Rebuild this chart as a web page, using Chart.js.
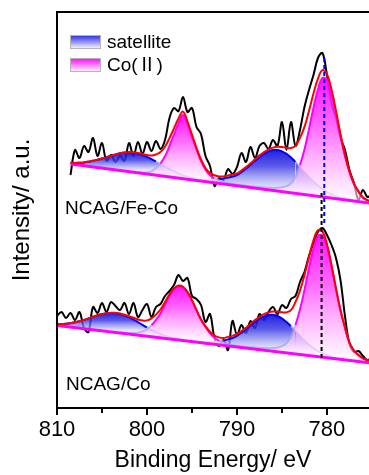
<!DOCTYPE html>
<html>
<head>
<meta charset="utf-8">
<script src="https://cdn.jsdelivr.net/npm/chart.js@4.4.1/dist/chart.umd.min.js"></script>
<style>
  html, body { margin: 0; padding: 0; background: #fff; }
  canvas { display: block; }
</style>
</head>
<body>
<canvas id="chart" width="369" height="475"></canvas>
<script>
// binding energy grid (eV)
const energy = [810, 809.5, 809, 808.5, 808, 807.5, 807, 806.5, 806, 805.5, 805, 804.5, 804, 803.5, 803, 802.5, 802, 801.5, 801, 800.5,
  800, 799.5, 799, 798.5, 798, 797.5, 797, 796.5, 796, 795.5, 795, 794.5, 794, 793.5, 793, 792.5, 792, 791.5, 791, 790.5,
  790, 789.5, 789, 788.5, 788, 787.5, 787, 786.5, 786, 785.5, 785, 784.5, 784, 783.5, 783, 782.5, 782, 781.5, 781, 780.5,
  780, 779.5, 779, 778.5, 778, 777.5, 777, 776.5, 776, 775.5, 775];

// NCAG/Fe-Co (upper trace)
const feCoRawFrom = 808.5;
const feCoRaw = [233, 258, 250, 262, 256, 270, 252, 265, 247, 253, 246, 252, 247, 265, 252, 266, 254, 266,
  257, 267, 259, 268, 290, 300, 297, 311, 296, 300, 281, 274, 252, 242, 222, 230, 228, 239, 234, 241,
  255, 246, 261, 250, 262, 265, 259, 268, 262, 286, 258, 286, 262, 278, 301, 318, 333, 350, 355, 333,
  305, 290, 270, 258, 238, 225, 208, 218, 211, 214];
const feCoFitFrom = 808.5;
const feCoFit = [245.2, 245.1, 245.3, 245.6, 246.3, 247.2, 248.3, 249.5, 250.9, 252.3, 253.6, 254.7, 255.4, 255.9, 255.7, 255.0, 254.0, 252.9,
  252.4, 253.5, 255.9, 261.3, 269.9, 279.6, 289.5, 296.4, 286.4, 273.2, 260.2, 248.5, 240.0, 234.9, 232.7, 231.6, 231.6, 232.6, 233.3, 234.6,
  237.5, 240.9, 244.7, 248.7, 252.6, 255.8, 258.7, 260.4, 261.3, 261.0, 260.2, 260.0, 262.1, 270.1, 281.1, 297.1, 314.5, 329.4, 337.9, 333.8,
  318.7, 297.2, 274.0, 253.1, 236.5, 224.4, 216.7, 210.5, 207.8, 206.4];
const feCoSat1From = 808.5;
const feCoSat1 = [245.2, 245.1, 245.3, 245.6, 246.3, 247.2, 248.3, 249.5, 250.9, 252.3, 253.6, 254.7, 255.4, 255.6, 255.3, 254.4,
  253.0, 251.1, 248.9, 246.5, 243.9, 241.3, 238.9, 236.6, 234.5, 232.7, 231.2, 229.9, 228.8, 227.8, 226.9, 226.1];
const feCoCo1From = 801;
const feCoCo1 = [235.8, 235.6, 235.8, 236.9, 239.9, 244.3, 251.7, 262.1, 273.5, 284.9, 293.0, 283.7, 271.2, 258.6, 247.0,
  238.4, 232.8, 229.7, 227.6, 226.1, 225.0, 224.1, 223.1, 222.3, 221.5];
const feCoSat2From = 795;
const feCoSat2 = [228.5, 228.0, 227.7, 227.5, 227.6, 228.0, 228.6, 229.6, 230.5, 231.4, 233.0, 235.9, 239.3, 243.1, 247.0, 250.8,
  254.0, 256.6, 257.9, 258.0, 256.7, 254.2, 250.5, 246.1, 241.1, 236.1, 231.1, 226.5, 222.4, 219.0, 216.0, 213.7, 211.8, 210.4,
  209.2, 208.2, 207.4, 206.7, 206.0, 205.3, 204.7];
const feCoCo2From = 790.5;
const feCoCo2 = [223.6, 223.1, 222.7, 222.2, 221.7, 221.3, 220.9, 220.5, 220.3, 220.1, 220.3, 220.7, 221.8, 224.7, 230.6, 243.0,
  258.5, 278.9, 300.3, 318.7, 330.0, 328.3, 314.9, 294.7, 272.4, 252.1, 235.9, 224.0, 216.4, 210.3, 207.7, 206.4];
const feCoBgE = [808.5, 775];
const feCoBgI = [244.0, 204.6];
const feCoMarkE = 780.3;
const feCoMarkI = [350, 183];

// NCAG/Co (lower trace)
const coRawFrom = 810;
const coRaw = [92, 96, 90, 95, 88, 96, 80, 76, 101, 95, 105, 96, 106, 102, 98, 105, 94, 105, 91, 98, 104,
  91, 101, 104, 112, 117, 123, 133, 127, 130, 112, 109, 103, 86, 94, 70, 62, 68, 58, 87, 73,
  83, 75, 87, 80, 94, 88, 96, 101, 94, 103, 100, 109, 112, 126, 136, 152, 165, 176, 180, 173,
  163, 150, 128, 92, 64, 56, 57, 52, 48, 50];
const coFitFrom = 810;
const coFit = [83.8, 84.0, 84.2, 84.8, 85.7, 86.8, 88.1, 89.6, 91.2, 92.7, 93.8, 94.7, 95.3, 95.1, 94.5, 93.3, 91.8, 90.2, 88.5, 87.4, 87.6,
  89.7, 93.4, 98.5, 106.1, 113.8, 119.6, 122.5, 121.3, 115.9, 107.8, 98.0, 88.7, 81.8, 76.2, 72.5, 70.6, 70.0, 71.1, 72.1, 74.0,
  76.9, 80.3, 84.1, 87.9, 91.0, 93.9, 95.6, 96.4, 96.4, 95.7, 95.6, 97.8, 106.0, 117.3, 132.8, 151.1, 167.8, 177.7, 176.6, 164.0,
  143.2, 119.8, 98.0, 80.4, 65.3, 57.3, 53.1, 49.5, 47.9, 46.7];
const coSat1From = 810;
const coSat1 = [83.8, 84.0, 84.2, 84.8, 85.7, 86.8, 88.1, 89.6, 91.2, 92.7, 93.8, 94.7, 95.1, 94.8, 94.0, 92.5, 90.6, 88.4, 85.8,
  83.2, 80.6, 78.2, 76.0, 74.0, 72.4, 71.1, 69.8, 68.9, 68.1, 67.2, 66.5];
const coCo1From = 803;
const coCo1 = [75.5, 75.2, 75.1, 75.2, 75.5, 76.5, 78.8, 82.7, 88.1, 94.6, 103.3, 111.8, 118.3, 121.6, 120.7, 115.6, 107.4,
  97.6, 88.1, 80.8, 74.7, 70.2, 67.2, 65.2, 63.8, 62.7, 61.8, 61.1, 60.3];
const coSat2From = 795;
const coSat2 = [66.7, 66.3, 65.9, 65.8, 65.7, 66.0, 66.6, 67.4, 68.6, 70.0, 72.2, 75.2, 78.7, 82.4, 86.1, 89.2, 91.7, 93.0, 93.2,
  92.0, 89.5, 86.0, 81.8, 77.0, 72.3, 67.6, 63.6, 60.1, 57.0, 54.7, 52.9, 51.3, 50.2, 49.2, 48.5, 47.7, 47.1, 46.5, 46.0, 45.4, 44.9];
const coCo2From = 791;
const coCo2 = [62.9, 62.4, 62.0, 61.6, 61.1, 60.8, 60.5, 60.1, 60.0, 59.8, 59.9, 60.6, 61.8, 64.7, 70.6, 83.0, 98.5, 118.1,
  139.9, 159.6, 172.0, 172.7, 161.4, 141.6, 118.8, 97.4, 80.0, 65.1, 57.2, 53.1, 49.5, 47.9, 46.7];
const coBgE = [810, 775];
const coBgI = [82.5, 44.9];
const coMarkE = 780.6;
const coMarkI = [215, 48];

const xMajor = [810, 800, 790, 780];
const xMinor = [805, 795, 785];
const xTitle = 'Binding Energy/ eV';
const yTitle = 'Intensity/ a.u.';
const legendNames = ['satellite', 'Co(Ⅱ)'];
const sampleNames = ['NCAG/Fe-Co', 'NCAG/Co'];

Chart.defaults.font.family = "'Liberation Sans', Arial, sans-serif";
Chart.defaults.color = '#000';

const FAINT = 'rgba(165,165,230,0.75)';
const BLUE = ['rgba(15,15,220,0.93)', 'rgba(55,55,228,0.82)', 'rgba(235,235,255,0.6)'];
const PINK = ['rgba(255,0,255,0.93)', 'rgba(255,70,255,0.82)', 'rgba(255,240,255,0.6)'];

const idx = e => energy.indexOf(e);
const pts = (from, vals) => vals.map((v, i) => ({x: energy[idx(from) + i], y: v}));
const valAt = (s, k) => { const j = k - idx(s.from); return j >= 0 && j < s.vals.length ? s.vals[j] : null; };

// vertical gradient from the peak of a component down to the background under it
function fade(stops, bgE, bgI) {
  return c => {
    const ch = c.chart;
    if (!ch.chartArea || !c.dataset) return stops[0];
    const data = c.dataset.data;
    let top = data[0];
    data.forEach(p => { if (p.y > top.y) top = p; });
    const t = (top.x - bgE[0]) / (bgE[1] - bgE[0]);
    const under = bgI[0] + t * (bgI[1] - bgI[0]);
    const sc = ch.scales.y;
    const g = ch.ctx.createLinearGradient(0, sc.getPixelForValue(top.y), 0, sc.getPixelForValue(under));
    g.addColorStop(0, stops[0]);
    g.addColorStop(0.4, stops[1]);
    g.addColorStop(1, stops[2]);
    return g;
  };
}

function component(s, others, color, stops, bg, base, order) {
  const onTop = k => { const me = valAt(s, k); return others.every(o => { const v = valAt(o, k); return v == null || me >= v - 0.2; }); };
  return {
    data: pts(s.from, s.vals), borderColor: color, borderWidth: 2,
    backgroundColor: fade(stops, bg[0], bg[1]), fill: base, order: order, tension: 0.4,
    segment: {
      borderColor: c => {
        const k0 = idx(s.from) + c.p0DataIndex, k1 = idx(s.from) + c.p1DataIndex;
        return onTop(k0) && onTop(k1) ? undefined : FAINT;
      }
    }
  };
}

const fs1 = {from: feCoSat1From, vals: feCoSat1}, fc1 = {from: feCoCo1From, vals: feCoCo1};
const fs2 = {from: feCoSat2From, vals: feCoSat2}, fc2 = {from: feCoCo2From, vals: feCoCo2};
const cs1 = {from: coSat1From, vals: coSat1}, cc1 = {from: coCo1From, vals: coCo1};
const cs2 = {from: coSat2From, vals: coSat2}, cc2 = {from: coCo2From, vals: coCo2};
const feBg = [feCoBgE, feCoBgI], coBg = [coBgE, coBgI];

const line = (data, color, width, order, extra) => Object.assign({data, borderColor: color, borderWidth: width, fill: false, order, tension: 0}, extra || {});

const datasets = [
  line(pts(feCoRawFrom, feCoRaw), '#000', 2, 10, {tension: 0.35}),
  line(pts(coRawFrom, coRaw), '#000', 2, 10, {tension: 0.35}),
  line(feCoBgE.map((e, i) => ({x: e, y: feCoBgI[i]})), '#ff00ff', 3, 5),
  line(coBgE.map((e, i) => ({x: e, y: coBgI[i]})), '#ff00ff', 3, 5),
  component(fs1, [fc1, fs2, fc2], '#0000ff', BLUE, feBg, 2, 8),
  component(fs2, [fs1, fc1, fc2], '#0000ff', BLUE, feBg, 2, 8),
  component(fc1, [fs1, fs2, fc2], '#ff00ff', PINK, feBg, 2, 7),
  component(fc2, [fs1, fc1, fs2], '#ff00ff', PINK, feBg, 2, 7),
  component(cs1, [cc1, cs2, cc2], '#0000ff', BLUE, coBg, 3, 8),
  component(cs2, [cs1, cc1, cc2], '#0000ff', BLUE, coBg, 3, 8),
  component(cc1, [cs1, cs2, cc2], '#ff00ff', PINK, coBg, 3, 7),
  component(cc2, [cs1, cc1, cs2], '#ff00ff', PINK, coBg, 3, 7),
  line(pts(feCoFitFrom, feCoFit), '#ff0000', 2, 3, {tension: 0.4}),
  line(pts(coFitFrom, coFit), '#ff0000', 2, 3, {tension: 0.4}),
  line(feCoMarkI.map(v => ({x: feCoMarkE, y: v})), '#0000ff', 2, 1, {borderDash: [4, 3]}),
  line(coMarkI.map(v => ({x: coMarkE, y: v})), '#000', 2, 1, {borderDash: [4, 3]})
];

function legendBox(ctx, x, y, w, h, color) {
  const g = ctx.createLinearGradient(0, y, 0, y + h);
  g.addColorStop(0, color);
  g.addColorStop(1, '#ffffff');
  ctx.fillStyle = g;
  ctx.fillRect(x, y, w, h);
  ctx.strokeStyle = '#b4b4b4';
  ctx.lineWidth = 1;
  ctx.strokeRect(x + 0.5, y + 0.5, w - 1, h - 1);
}

const decor = {
  id: 'decor',
  afterDatasetsDraw(chart) {
    const {ctx, chartArea: a, scales: {x}} = chart;
    ctx.save();
    ctx.strokeStyle = '#000';
    ctx.lineWidth = 2;
    ctx.beginPath();
    ctx.moveTo(a.right + 2, a.top);
    ctx.lineTo(a.left, a.top);
    ctx.lineTo(a.left, a.bottom);
    ctx.lineTo(a.right + 2, a.bottom);
    xMajor.forEach(v => { const px = x.getPixelForValue(v); ctx.moveTo(px, a.bottom); ctx.lineTo(px, a.bottom + 7); });
    xMinor.forEach(v => { const px = x.getPixelForValue(v); ctx.moveTo(px, a.bottom); ctx.lineTo(px, a.bottom + 5); });
    ctx.stroke();

    legendBox(ctx, 70, 35, 31, 14, 'rgb(40,40,230)');
    legendBox(ctx, 70, 58, 31, 14, 'rgb(255,0,255)');
    ctx.fillStyle = '#000';
    ctx.textBaseline = 'middle';
    ctx.textAlign = 'left';
    ctx.font = "19px 'Liberation Sans', 'Noto Sans CJK SC', sans-serif";
    ctx.fillText(legendNames[0], 107, 42.5);
    ctx.fillText(legendNames[1], 107, 66);
    ctx.fillText(sampleNames[0], 65, 209);
    ctx.fillText(sampleNames[1], 66, 385);
    ctx.restore();
  }
};

new Chart(document.getElementById('chart'), {
  type: 'line',
  data: {datasets},
  plugins: [decor],
  options: {
    responsive: false,
    animation: false,
    events: [],
    layout: {padding: {top: 12, left: 0, right: 0, bottom: 0}},
    elements: {point: {radius: 0}},
    plugins: {legend: {display: false}, tooltip: {enabled: false}},
    scales: {
      x: {
        type: 'linear', reverse: true, min: 775.33, max: 810,
        afterBuildTicks: s => { s.ticks = xMajor.map(v => ({value: v})); },
        afterFit: s => { s.height = 67; },
        grid: {display: false, drawTicks: false},
        border: {display: false},
        ticks: {font: {size: 22}, padding: 9, maxRotation: 0, autoSkip: false, callback: v => String(v)},
        title: {display: true, text: xTitle, font: {size: 23}, padding: {top: 0, bottom: 1}}
      },
      y: {
        type: 'linear', min: 0, max: 396,
        afterFit: s => { s.width = 57; },
        grid: {display: false, drawTicks: false},
        border: {display: false},
        ticks: {display: false},
        title: {display: true, text: yTitle, font: {size: 24}, padding: {top: 8, bottom: 0}}
      }
    }
  }
});
</script>
</body>
</html>
